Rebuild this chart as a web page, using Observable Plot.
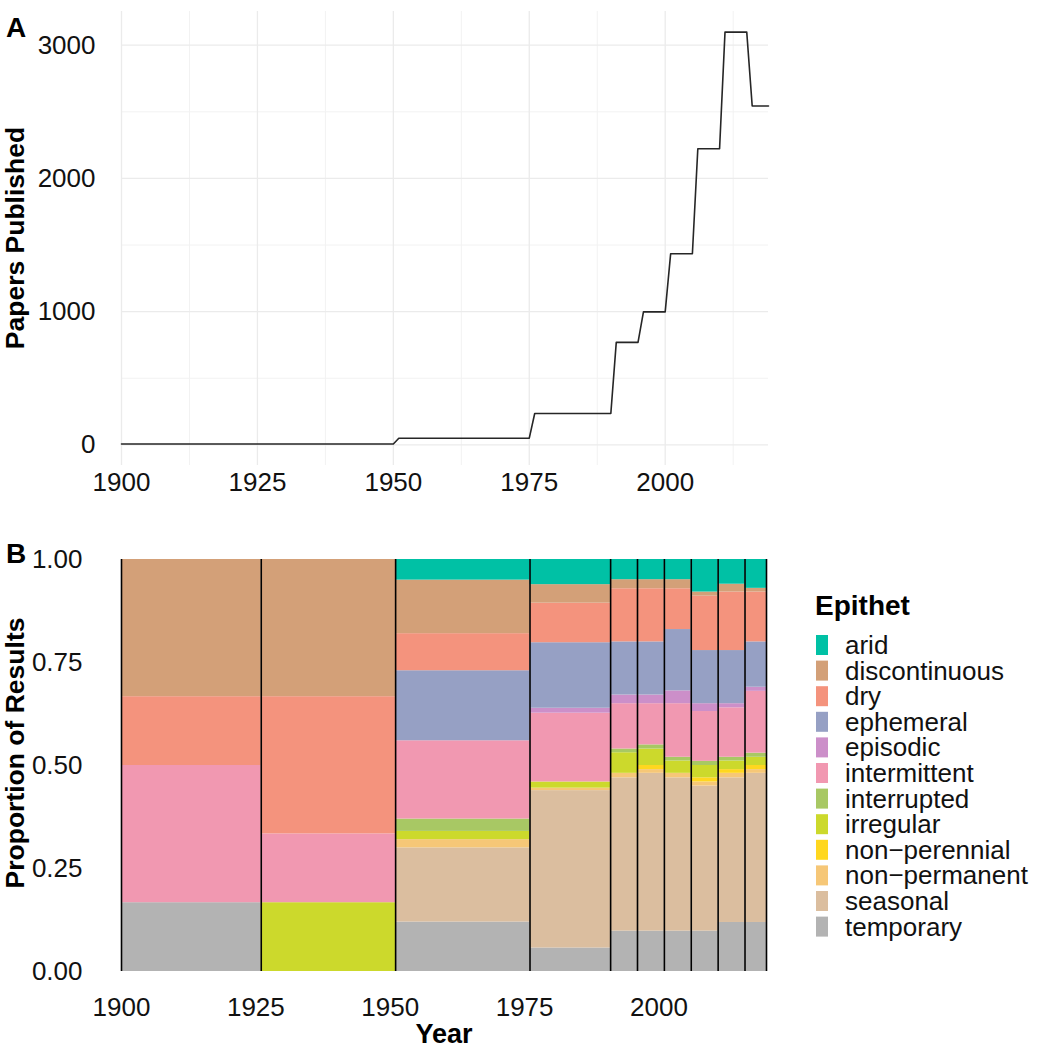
<!DOCTYPE html>
<html>
<head>
<meta charset="utf-8">
<script src="https://cdn.jsdelivr.net/npm/d3@7"></script>
<script src="https://cdn.jsdelivr.net/npm/@observablehq/plot@0.6"></script>
<style>
  body { margin: 0; background: #fff; }
  #wrap { position: relative; width: 1038px; height: 1050px; overflow: hidden; background: #fff;
          font-family: "Liberation Sans", Arial, Helvetica, sans-serif; }
  #wrap > svg, #wrap > div { position: absolute; }
</style>
</head>
<body>
<div id="wrap"></div>
<script>
// ---------- data ----------
// bins of publication years
const binStart = [1900, 1926, 1951, 1976, 1991, 1996, 2001, 2006, 2011, 2016];
const binEnd   = [1925, 1950, 1975, 1990, 1995, 2000, 2005, 2010, 2015, 2019];
// papers published per bin (panel A)
const papers   = [6, 6, 50, 235, 769, 998, 1434, 2223, 3098, 2544];

// epithets and colours
const epithets = ["arid", "discontinuous", "dry", "ephemeral", "episodic", "intermittent",
                  "interrupted", "irregular", "non-perennial", "non-permanent", "seasonal", "temporary"];
const epithetColors = ["#00C1A5", "#D3A078", "#F4937D", "#96A0C4", "#CC8FC9", "#F198B1",
                       "#A8C864", "#CCD92C", "#FFD71F", "#F6C777", "#DBBE9F", "#B3B3B3"];

// proportion of results per bin (panel B)
const propArid          = [0,     0,     0.05, 0.061, 0.049, 0.049, 0.049, 0.079, 0.060, 0.070];
const propDiscontinuous = [0.333, 0.333, 0.13, 0.045, 0.022, 0.022, 0.022, 0.010, 0.019, 0.009];
const propDry           = [0.167, 0.333, 0.09, 0.096, 0.129, 0.129, 0.099, 0.132, 0.142, 0.121];
const propEphemeral     = [0,     0,     0.17, 0.159, 0.129, 0.129, 0.149, 0.129, 0.129, 0.110];
const propEpisodic      = [0,     0,     0,    0.012, 0.021, 0.021, 0.031, 0.019, 0.010, 0.010];
const propIntermittent  = [0.333, 0.167, 0.19, 0.167, 0.110, 0.100, 0.130, 0.121, 0.120, 0.150];
const propInterrupted   = [0,     0,     0.03, 0,     0.009, 0.010, 0.009, 0.010, 0.009, 0.010];
const propIrregular     = [0,     0.167, 0.02, 0.015, 0.050, 0.040, 0.030, 0.030, 0.021, 0.020];
const propNonPerennial  = [0,     0,     0,    0,     0,     0.010, 0,     0.010, 0.009, 0.010];
const propNonPermanent  = [0,     0,     0.02, 0.006, 0.011, 0.009, 0.011, 0.010, 0.011, 0.009];
const propSeasonal      = [0,     0,     0.18, 0.382, 0.372, 0.383, 0.372, 0.352, 0.351, 0.362];
const propTemporary     = [0.167, 0,     0.12, 0.057, 0.098, 0.098, 0.098, 0.098, 0.119, 0.119];

const xTicks = [1900, 1925, 1950, 1975, 2000];
const xMinor = [1912.5, 1937.5, 1962.5, 1987.5, 2012.5];
const yTicksA = [0, 1000, 2000, 3000];
const yMinorA = [500, 1500, 2500];
const yTicksB = [0, 0.25, 0.5, 0.75, 1];

// ---------- derived tables ----------
const propTable = {
  "arid": propArid, "discontinuous": propDiscontinuous, "dry": propDry, "ephemeral": propEphemeral,
  "episodic": propEpisodic, "intermittent": propIntermittent, "interrupted": propInterrupted,
  "irregular": propIrregular, "non-perennial": propNonPerennial, "non-permanent": propNonPermanent,
  "seasonal": propSeasonal, "temporary": propTemporary
};

const linePts = [];
binStart.forEach((s, i) => {
  linePts.push({year: s, n: papers[i]});
  linePts.push({year: binEnd[i], n: papers[i]});
});

const rects = [];
binStart.forEach((s, i) => {
  const total = epithets.reduce((a, e) => a + propTable[e][i], 0);
  let cum = 0;
  [...epithets].reverse().forEach(e => {
    const v = propTable[e][i] / total;
    if (v <= 0) return;
    rects.push({x1: s, x2: binEnd[i] + 1, y1: cum, y2: cum + v, epithet: e});
    cum += v;
  });
});
const edges = [...binStart, binEnd[binEnd.length - 1] + 1];

const wrap = document.getElementById("wrap");
const fontStyle = {fontFamily: "'Liberation Sans', Arial, Helvetica, sans-serif", fontSize: "26px", color: "#111", background: "transparent", overflow: "visible"};

// ---------- panel A ----------
const plotA = Plot.plot({
  width: 1038, height: 500,
  marginLeft: 121, marginRight: 270, marginTop: 11, marginBottom: 35,
  x: {domain: [1900, 2019]},
  y: {domain: [-155, 3253]},
  style: fontStyle,
  marks: [
    Plot.gridX(xMinor, {stroke: "#f2f2f2", strokeOpacity: 1, strokeWidth: 1}),
    Plot.gridY(yMinorA, {stroke: "#f2f2f2", strokeOpacity: 1, strokeWidth: 1}),
    Plot.gridX(xTicks, {stroke: "#ebebeb", strokeOpacity: 1, strokeWidth: 1.3}),
    Plot.gridY(yTicksA, {stroke: "#ebebeb", strokeOpacity: 1, strokeWidth: 1.3}),
    Plot.line(linePts, {x: "year", y: "n", stroke: "#262626", strokeWidth: 1.6}),
    Plot.axisX({ticks: xTicks, tickSize: 0, tickPadding: 7, tickFormat: "d", label: null}),
    Plot.axisY({ticks: yTicksA, tickSize: 0, tickPadding: 26, tickFormat: "d", label: null})
  ]
});
plotA.style.left = "0px"; plotA.style.top = "0px";
wrap.appendChild(plotA);

// ---------- panel B ----------
const plotB = Plot.plot({
  width: 1038, height: 510,
  marginLeft: 121, marginRight: 272, marginTop: 19, marginBottom: 79,
  x: {domain: [1900, 2020]},
  y: {domain: [0, 1]},
  color: {domain: epithets, range: epithetColors},
  style: fontStyle,
  marks: [
    Plot.rect(rects, {x1: "x1", x2: "x2", y1: "y1", y2: "y2", fill: "epithet"}),
    Plot.ruleX(edges, {stroke: "#000", strokeWidth: 1.6}),
    Plot.axisX({ticks: xTicks, tickSize: 0, tickPadding: 26, tickFormat: "d", label: null}),
    Plot.axisY({ticks: yTicksB, tickSize: 0, tickPadding: 39, tickFormat: ".2f", label: null})
  ]
});
plotB.style.left = "0px"; plotB.style.top = "540px";
wrap.appendChild(plotB);

// ---------- titles & legend ----------
const ov = d3.select(wrap).append("svg")
  .attr("width", 1038).attr("height", 1050)
  .style("left", "0px").style("top", "0px")
  .style("pointer-events", "none")
  .attr("font-family", "'Liberation Sans', Arial, Helvetica, sans-serif");

ov.append("text").attr("x", 6).attr("y", 37).attr("font-size", 28).attr("font-weight", "bold").text("A");
ov.append("text").attr("x", 6).attr("y", 563).attr("font-size", 28).attr("font-weight", "bold").text("B");

ov.append("text").attr("transform", "translate(24,238) rotate(-90)")
  .attr("text-anchor", "middle").attr("font-size", 26.5).attr("font-weight", "bold").text("Papers Published");
ov.append("text").attr("transform", "translate(24,753) rotate(-90)")
  .attr("text-anchor", "middle").attr("font-size", 26.5).attr("font-weight", "bold").text("Proportion of Results");
ov.append("text").attr("x", 444).attr("y", 1043)
  .attr("text-anchor", "middle").attr("font-size", 27).attr("font-weight", "bold").text("Year");

ov.append("text").attr("x", 815).attr("y", 615).attr("font-size", 28).attr("font-weight", "bold").text("Epithet");
epithets.forEach((e, i) => {
  const cy = 645 + 25.6 * i;
  ov.append("rect").attr("x", 816).attr("y", cy - 10).attr("width", 12).attr("height", 20)
    .attr("fill", epithetColors[i]);
  ov.append("text").attr("x", 845).attr("y", cy + 9).attr("font-size", 26).attr("fill", "#111")
    .text(e.replace("-", "\u2212"));
});
</script>
</body>
</html>
